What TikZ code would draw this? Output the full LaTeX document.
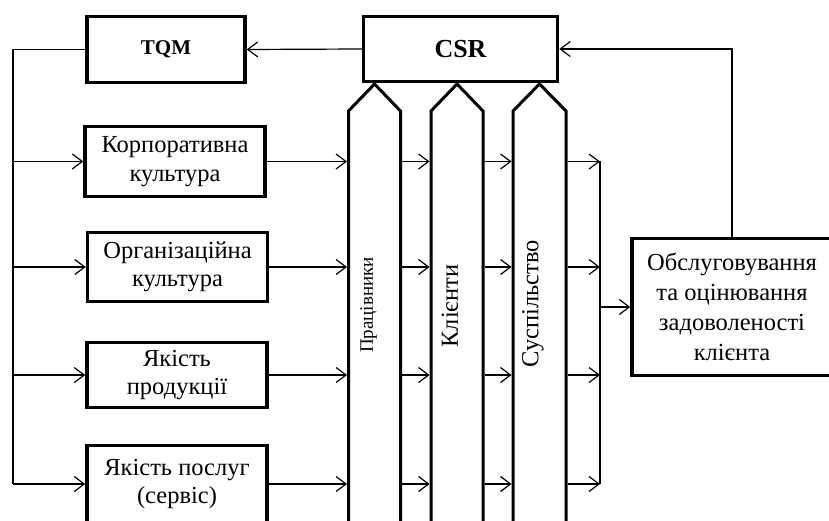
\documentclass[tikz,border=0pt]{standalone}
\usepackage{fontspec}
\setmainfont{Liberation Serif}
\usetikzlibrary{arrows.meta}
\begin{document}
\begin{tikzpicture}[x=1pt,y=-1pt,
  box/.style={draw, line width=3.5pt, inner sep=0pt, align=center, font=\fontsize{24.5}{28.5}\selectfont},
  col/.style={line width=3pt, line join=miter},
  conn/.style={line width=1.2pt, -{Straight Barb[length=10pt,width=15pt,line width=1.2pt]}},
  ln/.style={line width=1.2pt},
  vlab/.style={rotate=90, inner sep=0pt}
]
\useasboundingbox (0,0) rectangle (829,521);
\clip (0,0) rectangle (829,521);
% boxes
\node[box, minimum width=158pt, minimum height=66pt, font=\bfseries\fontsize{21}{24}\selectfont] (tqm) at (166,49.5) {TQM};
\node[box, minimum width=194pt, minimum height=65pt, font=\bfseries\fontsize{26}{30}\selectfont] (csr) at (460.5,49) {CSR};
\node[box, minimum width=180pt, minimum height=70pt] (korp) at (175,161.5) {Корпоративна\\культура};
\node[box, minimum width=180pt, minimum height=69pt] (org) at (177.5,267) {Організаційна\\культура};
\node[box, minimum width=180pt, minimum height=65pt] (prod) at (177,375) {Якість\\продукції};
\node[box, minimum width=180pt, minimum height=77pt] (posl) at (177,484) {Якість послуг\\(сервіс)};
\node[box, minimum width=200pt, minimum height=137pt, font=\fontsize{24.5}{30}\selectfont] (obsl) at (732,307) {Обслуговування\\та оцінювання\\задоволеності\\клієнта};
% columns
\draw[col] (348.5,530) -- (348.5,111) -- (374.5,84) -- (400.5,111) -- (400.5,530);
\draw[col] (431,530) -- (431,111) -- (457,84) -- (483,111) -- (483,530);
\draw[col] (513,530) -- (513,111) -- (539.5,84) -- (566,111) -- (566,530);
\node[vlab, font=\fontsize{19}{22}\selectfont] (l1) at (368.5,305) {Працівники};
\node[vlab, font=\fontsize{24.5}{28}\selectfont] (l2) at (450,306) {Клієнти};
\node[vlab, font=\fontsize{24.5}{28}\selectfont] (l3) at (533,304) {Суспільство};
% reference coordinates
\coordinate (lbus) at (13,0);
\coordinate (c1l) at (347,0);
\coordinate (c1r) at (402,0);
\coordinate (c2l) at (429.5,0);
\coordinate (c2r) at (484.5,0);
\coordinate (c3l) at (511.5,0);
\coordinate (c3r) at (567.5,0);
\coordinate (bus) at (600,0);
% top connectors
\draw[conn] (csr.west) -- (tqm.east);
\draw[conn] (obsl.north) -- (obsl.north |- csr.east) -- (csr.east);
% left bus
\draw[ln] (tqm.west) -- (tqm.west -| lbus) -- (posl.west -| lbus);
\foreach \b in {korp,org,prod,posl}{
  \draw[conn] (\b.west -| lbus) -- (\b.west);
  \draw[conn] (\b.east) -- (\b.east -| c1l);
  \draw[conn] (\b.east -| c1r) -- (\b.east -| c2l);
  \draw[conn] (\b.east -| c2r) -- (\b.east -| c3l);
  \draw[conn] (\b.east -| c3r) -- (\b.east -| bus);
}
\draw[ln] (korp.east -| bus) -- (posl.east -| bus);
\draw[conn] (obsl.west -| bus) -- (obsl.west);
\end{tikzpicture}
\end{document}
